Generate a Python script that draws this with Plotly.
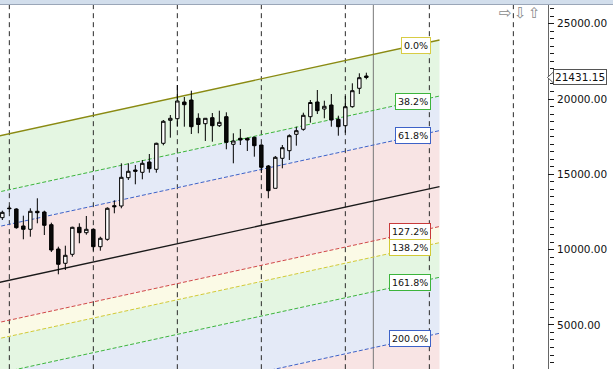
import numpy as np
import plotly.graph_objects as go

# ---------------- data ----------------
idx = list(range(53))
opens = [12120, 12760, 12696, 11568, 11348, 12544, 12497, 11654, 10040, 9091,
         9688, 11481, 11123, 11348, 10193, 10684, 12916, 12896, 14775, 15286,
         15133, 15817, 15332, 17059, 18586, 18692, 19801, 19934, 18719, 18360,
         18759, 18228, 18825, 16992, 17391, 17391, 17457, 16946, 15552, 14071,
         16063, 16568, 17656, 17988, 18825, 19801, 19336, 19602, 18652, 18228,
         19489, 20711, 21528]
highs = [12585, 12915, 12743, 12252, 12743, 13407, 12584, 11787, 10193, 10260,
         11521, 11747, 12232, 11415, 10857, 12809, 13274, 15731, 15731, 15618,
         15950, 16348, 17099, 18606, 18938, 20930, 20133, 20552, 19051, 18739,
         19071, 19224, 19117, 17723, 18008, 17444, 17497, 16979, 15618, 16216,
         16946, 17656, 18161, 19091, 19934, 20598, 19888, 20332, 18892, 20200,
         21043, 21707, 21747]
lows = [11965, 12515, 11388, 10684, 10857, 11747, 10970, 9841, 8360, 8646,
        9529, 10419, 10990, 9928, 9928, 10592, 12411, 12743, 14622, 14336,
        14668, 15107, 15107, 16926, 17431, 18161, 18161, 17676, 17723, 17212,
        17165, 18141, 16660, 15731, 16946, 16548, 16169, 15087, 13407, 14071,
        15399, 15950, 16900, 17896, 18427, 19004, 18719, 18161, 17564, 17763,
        19423, 20332, 21308]
closes = [12475, 12720, 11455, 11348, 12544, 12451, 11614, 9974, 9024, 9622,
          11481, 11123, 11348, 10193, 10751, 12743, 12849, 14801, 15200, 15200,
          15731, 15372, 17059, 18520, 18719, 19868, 19622, 18161, 18307, 18719,
          18228, 18453, 17125, 17212, 17278, 17278, 16900, 15465, 13912, 16129,
          16767, 17564, 17896, 18918, 19768, 19224, 19516, 18606, 18161, 19489,
          20552, 21415, 21431.15]
last_price = 21431.15

# Fibonacci channel: 0% base line anchor points and channel height (100%)
fib_x = [-1.0, 62.45]
fib_base = [17497, 23918]
fib_range = 9738
fib_levels = [0.0, 0.382, 0.618, 1.0, 1.272, 1.382, 1.618, 2.0]
fib_labels = ["0.0%", "38.2%", "61.8%", "", "127.2%", "138.2%", "161.8%", "200.0%"]
fib_line_colors = ["#8a8a12", "#3cb43c", "#3d62c8", "#1a1a1a",
                   "#d04848", "#d2ca36", "#3cb43c", "#3d62c8"]
fib_box_colors = ["#d8cc44", "#3cb43c", "#3d62c8", "#000000",
                  "#c83a3a", "#d2ca36", "#3cb43c", "#3d62c8"]
band_edges = [(0.0, 0.382), (0.382, 0.618), (0.618, 1.272), (1.272, 1.382),
              (1.382, 1.618), (1.618, 2.0), (2.0, 3.2)]
band_colors = ["#e4f6e2", "#e4eaf7", "#f8e4e4", "#fbfae6",
               "#e4f6e2", "#e4eaf7", "#f8e4e4"]

year_lines = [1, 13, 25, 37, 49, 61, 73]
cursor_line = 53

x_range = [-0.333, 77.95]
y_range = [2072, 26242]
major_step = 5000
minor_step = 500

# ---------------- figure ----------------
fig = go.Figure()

def base_at(x):
    return fib_base[0] + (fib_base[1] - fib_base[0]) * (x - fib_x[0]) / (fib_x[1] - fib_x[0])

x0, x1 = fib_x
for (a, b), col in zip(band_edges, band_colors):
    ys = [base_at(x0) - a * fib_range, base_at(x1) - a * fib_range,
          base_at(x1) - b * fib_range, base_at(x0) - b * fib_range]
    fig.add_shape(type="path", xref="x", yref="y", layer="below",
                  path=f"M {x0},{ys[0]} L {x1},{ys[1]} L {x1},{ys[2]} L {x0},{ys[3]} Z",
                  fillcolor=col, line=dict(width=0))

y_lo, y_hi = y_range[0] - 3000, y_range[1] + 3000
for xv in year_lines:
    fig.add_shape(type="line", xref="x", yref="y", x0=xv, x1=xv, y0=y_lo, y1=y_hi, layer="below",
                  line=dict(color="#2a2a2a", width=1, dash="5px,4px"))
fig.add_shape(type="line", xref="x", yref="y", x0=cursor_line, x1=cursor_line, y0=y_lo, y1=y_hi,
              layer="below", line=dict(color="#777777", width=1))

for lev, col in zip(fib_levels, fib_line_colors):
    solid = lev in (0.0, 1.0)
    fig.add_shape(type="line", xref="x", yref="y", layer="below",
                  x0=x0, x1=x1, y0=base_at(x0) - lev * fib_range, y1=base_at(x1) - lev * fib_range,
                  line=dict(color=col, width=1.4 if solid else 1,
                            dash="solid" if solid else "4px,2px"))

fig.add_trace(go.Candlestick(
    x=idx, open=opens, high=highs, low=lows, close=closes,
    increasing=dict(line=dict(color="#000000", width=1), fillcolor="#ffffff"),
    decreasing=dict(line=dict(color="#000000", width=1), fillcolor="#0a0a0a"),
    whiskerwidth=0, showlegend=False, hoverinfo="skip"))

# fib labels
label_x = 61.25
label_c = 59.0
for lev, txt, bc in zip(fib_levels, fib_labels, fib_box_colors):
    if not txt:
        continue
    fig.add_annotation(x=label_x, y=base_at(label_c) - lev * fib_range, xref="x", yref="y",
                       text=txt, showarrow=False, xanchor="right", yanchor="middle",
                       font=dict(family="DejaVu Sans", size=9.5, color="#111111"),
                       bgcolor="#ffffff", bordercolor=bc, borderwidth=1, borderpad=2)

# geometry helpers (plot area: 548 x 364 px, top offset 5 px)
W, H_plot = 548.0, 364.0
def py(px_from_top):
    return (369.0 - px_from_top) / H_plot
def vy(v):
    return (v - y_range[0]) / (y_range[1] - y_range[0])

# axis tick comb (major + minor), snapped to pixel centres for crisp 1px lines
for v in range(0, 30001, minor_step):
    if v < y_range[0] or v > y_range[1]:
        continue
    major = (v % major_step == 0)
    px_top = 5.0 + (1.0 - vy(v)) * H_plot
    yy = py(np.floor(px_top) + 0.5)
    fig.add_shape(type="line", xref="paper", yref="paper",
                  x0=(548.0 if major else 550.0) / W, x1=554.0 / W, y0=yy, y1=yy,
                  line=dict(color="#1a1a1a", width=1), layer="above")

# header strip
fig.add_shape(type="rect", xref="paper", yref="paper", x0=-0.01, x1=613 / W + 0.01,
              y0=py(4), y1=py(-1), fillcolor="#d2deec", line=dict(width=0), layer="above")
fig.add_shape(type="line", xref="paper", yref="paper", x0=-0.01, x1=613 / W + 0.01,
              y0=py(4.5), y1=py(4.5), line=dict(color="#9aa6b8", width=1), layer="above")

# navigation arrows
for ax_px, ch in zip([514, 529, 543], ["⇨", "⇩", "⇧"]):
    fig.add_annotation(xref="paper", yref="paper", x=ax_px / W, y=py(13), text=ch,
                       showarrow=False, yanchor="middle",
                       font=dict(family="DejaVu Sans", size=15, color="#8a8a8a"))

# last price label with pointer
fig.add_annotation(xref="paper", yref="paper", x=553 / W, y=vy(last_price),
                   text=f"{last_price:.2f}", showarrow=False, xanchor="left", yanchor="middle",
                   font=dict(family="DejaVu Sans", size=10.5, color="#111111"),
                   bgcolor="#ffffff", bordercolor="#555555", borderwidth=1, borderpad=1)
pv = vy(last_price)
fig.add_shape(type="path", xref="paper", yref="paper",
              path=f"M {547.5 / W},{pv} L {554 / W},{pv + 6 / H_plot} L {554 / W},{pv - 6 / H_plot} Z",
              fillcolor="#ffffff", line=dict(color="#555555", width=1), layer="above")

fig.update_layout(
    width=613, height=369,
    margin=dict(l=0, r=65, t=5, b=0),
    paper_bgcolor="#ffffff", plot_bgcolor="#ffffff",
    showlegend=False,
    xaxis=dict(range=x_range, visible=False, rangeslider=dict(visible=False), fixedrange=True),
    yaxis=dict(range=y_range, side="right", tick0=0, dtick=major_step, tickformat=".2f",
               ticks="outside", ticklen=6, tickcolor="rgba(0,0,0,0)", showgrid=False,
               zeroline=False, showline=True, linecolor="#666666", linewidth=1,
               tickfont=dict(family="DejaVu Sans", size=10.5, color="#111111")),
)

fig.write_html("out.html")
